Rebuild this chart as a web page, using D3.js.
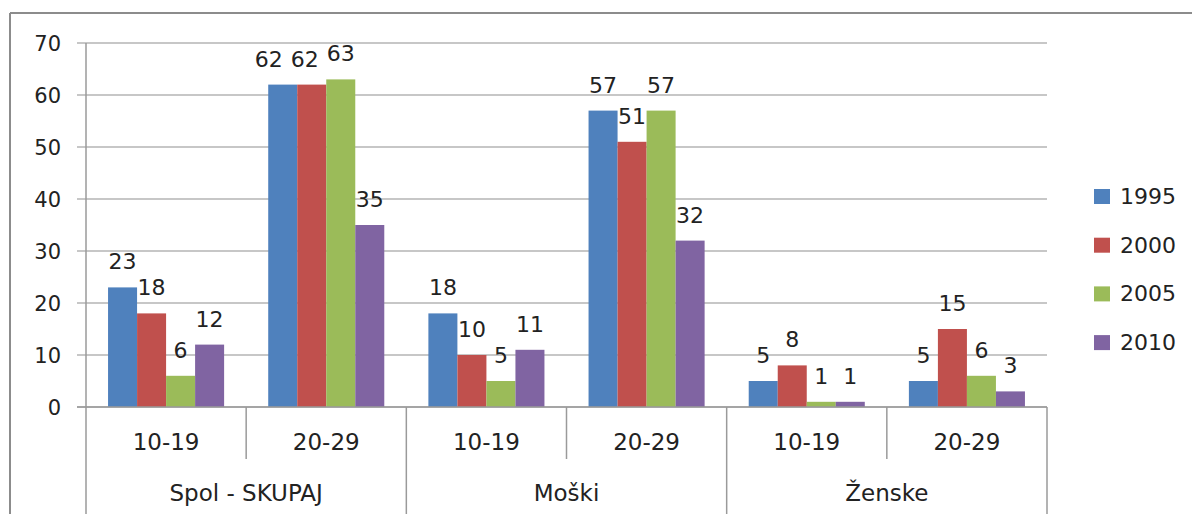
<!DOCTYPE html>
<html>
<head>
<meta charset="utf-8">
<script src="https://cdn.jsdelivr.net/npm/d3@7"></script>
<style>
  html, body { margin: 0; padding: 0; background: #fff; }
  svg { display: block; font-family: "DejaVu Sans", sans-serif; }
</style>
</head>
<body>
<svg id="chart" width="1192" height="514"></svg>
<script>
// ---- data ----
const groups = ["Spol - SKUPAJ", "Moški", "Ženske"];
const ageBands = ["10-19", "20-29"];
const years = ["1995", "2000", "2005", "2010"];
const colors = ["#4F81BD", "#C0504D", "#9BBB59", "#8064A2"];
const values1995 = [23, 62, 18, 57, 5, 5];
const values2000 = [18, 62, 10, 51, 8, 15];
const values2005 = [6, 63, 5, 57, 1, 6];
const values2010 = [12, 35, 11, 32, 1, 3];
const yTicks = [0, 10, 20, 30, 40, 50, 60, 70];

(function () {
const series = [values1995, values2000, values2005, values2010];
const categories = [];
groups.forEach(g => ageBands.forEach(a => categories.push(g + "|" + a)));

const svg = d3.select("#chart");
const pLeft = 86, pRight = 1047, pTop = 43, pBottom = 407;

const x = d3.scaleBand().domain(categories).range([pLeft, pRight]).paddingInner(0).paddingOuter(0);
const xInner = d3.scaleBand().domain(years).range([0, x.bandwidth()]).paddingInner(0).paddingOuter(0.76);
const y = d3.scaleLinear().domain([0, 70]).range([pBottom, pTop]);

// frame
svg.append("line").attr("x1", 10).attr("x2", 1192).attr("y1", 13).attr("y2", 13)
  .attr("stroke", "#8c8c8c").attr("stroke-width", 2);
svg.append("line").attr("x1", 10).attr("x2", 10).attr("y1", 13).attr("y2", 514)
  .attr("stroke", "#8c8c8c").attr("stroke-width", 2);

// gridlines
svg.append("g").selectAll("line").data(yTicks).join("line")
  .attr("x1", pLeft - 9).attr("x2", pRight)
  .attr("y1", d => y(d)).attr("y2", d => y(d))
  .attr("stroke", "#b4b4b4").attr("stroke-width", 1.5);

// y axis line
svg.append("line").attr("x1", pLeft).attr("x2", pLeft).attr("y1", pTop).attr("y2", pBottom)
  .attr("stroke", "#9a9a9a").attr("stroke-width", 1.5);

// y tick labels
svg.append("g").selectAll("text").data(yTicks).join("text")
  .attr("x", 61).attr("y", d => y(d)).attr("dy", "0.36em")
  .attr("text-anchor", "end").attr("font-size", 21).attr("fill", "#222")
  .text(d => d);

// bars
series.forEach((vals, si) => {
  svg.append("g").selectAll("rect").data(vals).join("rect")
    .attr("x", (d, i) => x(categories[i]) + xInner(years[si]))
    .attr("y", d => y(d))
    .attr("width", xInner.bandwidth())
    .attr("height", d => y(0) - y(d))
    .attr("fill", colors[si]);
});

// data labels (with simple overlap avoidance within a category)
const labelG = svg.append("g");
categories.forEach((c, ci) => {
  const nodes = series.map((vals, si) => labelG.append("text")
    .attr("x", x(c) + xInner(years[si]) + xInner.bandwidth() / 2)
    .attr("y", y(vals[ci]) - 26).attr("dy", "0.36em")
    .attr("text-anchor", "middle").attr("font-size", 22).attr("fill", "#222")
    .text(vals[ci]));
  for (let i = nodes.length - 2; i >= 0; i--) {
    const a = nodes[i], b = nodes[i + 1];
    const ya = +a.attr("y"), yb = +b.attr("y");
    if (Math.abs(ya - yb) < 14) {
      const ba = a.node().getBBox(), bb = b.node().getBBox();
      const need = (ba.x + ba.width + 8) - bb.x;
      if (need > 0) a.attr("x", +a.attr("x") - need);
    }
  }
});

// x axis line
svg.append("line").attr("x1", pLeft - 9).attr("x2", pRight).attr("y1", pBottom).attr("y2", pBottom)
  .attr("stroke", "#9a9a9a").attr("stroke-width", 1.5);

// separators: inner (between age bands) short, outer (between groups) long
const bounds = categories.map(c => x(c)).concat([pRight]);
svg.append("g").selectAll("line").data(bounds).join("line")
  .attr("x1", d => d).attr("x2", d => d)
  .attr("y1", pBottom)
  .attr("y2", (d, i) => (i % 2 === 0) ? 514 : 459)
  .attr("stroke", "#9a9a9a").attr("stroke-width", 1.5);

// age band labels
svg.append("g").selectAll("text").data(categories).join("text")
  .attr("x", c => x(c) + x.bandwidth() / 2).attr("y", 442).attr("dy", "0.36em")
  .attr("text-anchor", "middle").attr("font-size", 23).attr("fill", "#222")
  .text(c => c.split("|")[1]);

// group labels
svg.append("g").selectAll("text").data(groups).join("text")
  .attr("x", g => x(g + "|" + ageBands[0]) + x.bandwidth())
  .attr("y", 493).attr("dy", "0.36em")
  .attr("text-anchor", "middle").attr("font-size", 23).attr("fill", "#222")
  .text(g => g);

// legend
const legend = svg.append("g").selectAll("g").data(years).join("g")
  .attr("transform", (d, i) => `translate(1094, ${196 + i * 48.7})`);
legend.append("rect").attr("x", 0).attr("y", -7).attr("width", 16).attr("height", 15)
  .attr("fill", (d, i) => colors[i]);
legend.append("text").attr("x", 26).attr("y", 0).attr("dy", "0.36em")
  .attr("font-size", 22).attr("fill", "#222").text(d => d);
})();
</script>
</body>
</html>
